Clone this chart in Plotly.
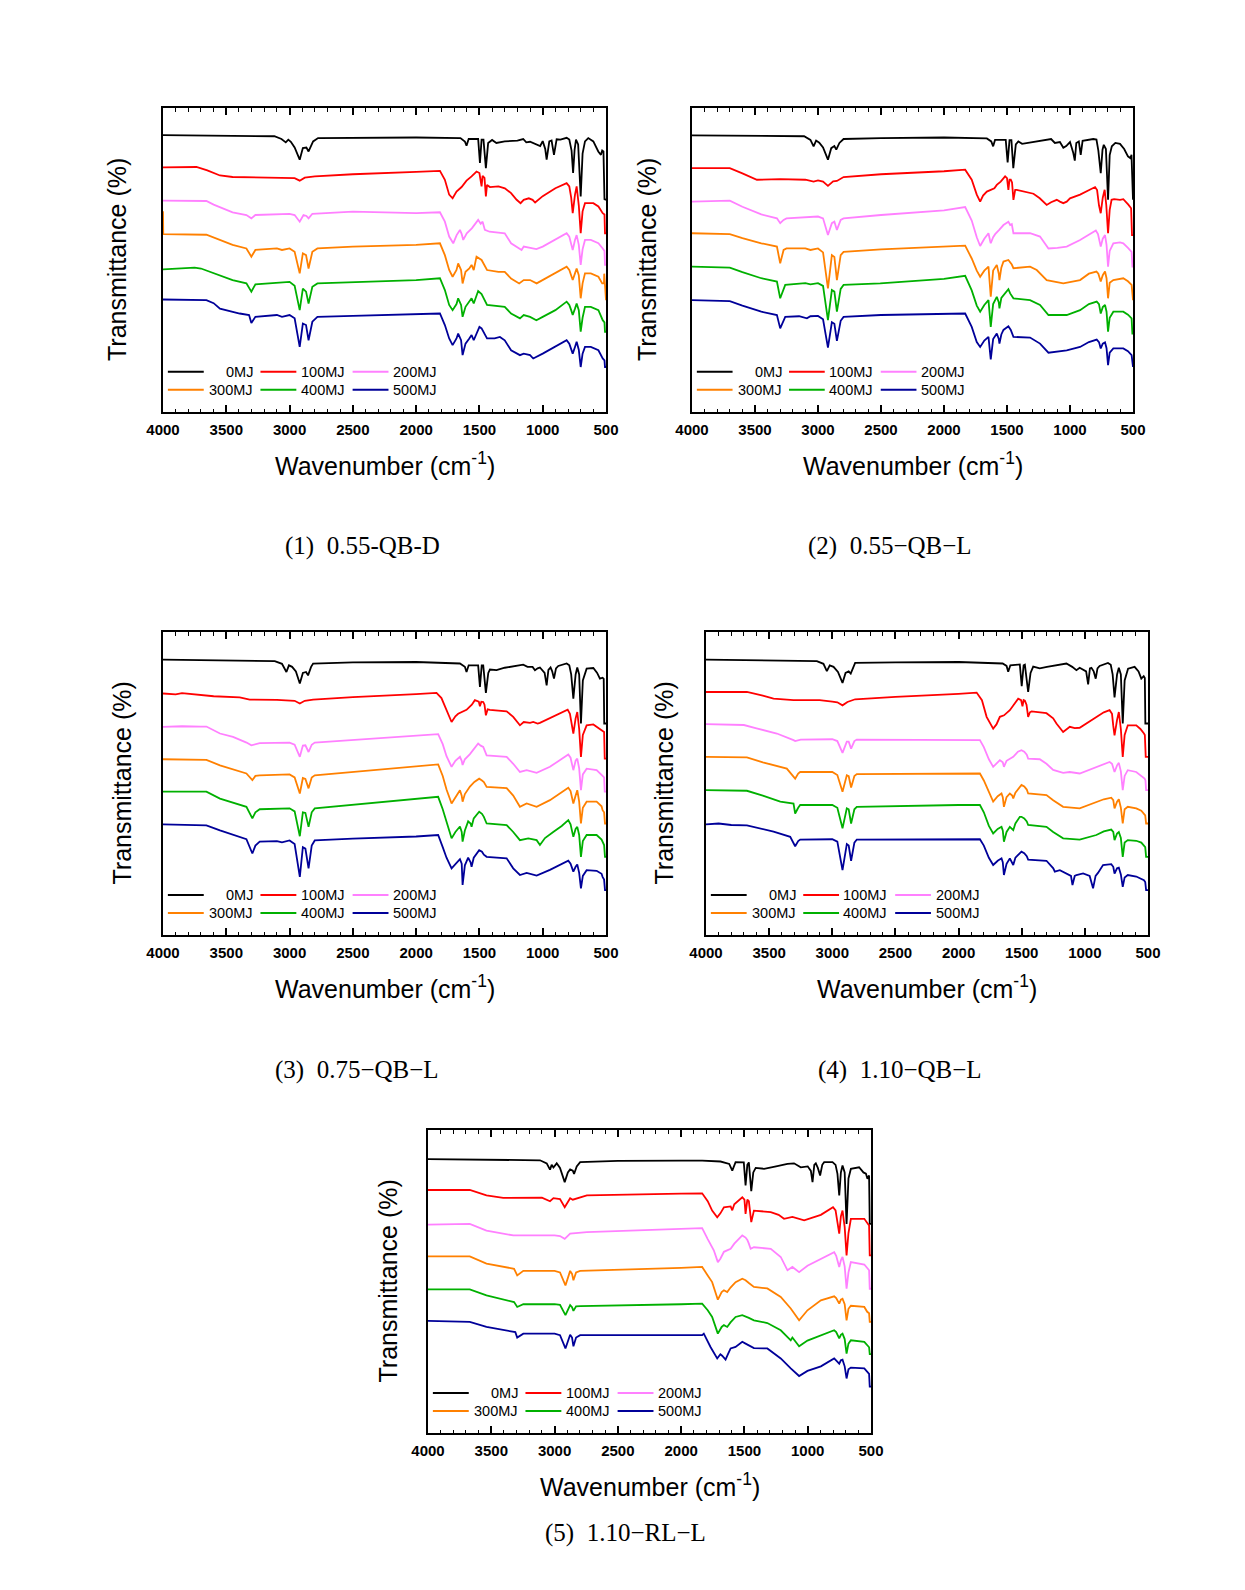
import plotly.graph_objects as go

W, H = 1245, 1590

SERIES_NAMES = ["0MJ", "100MJ", "200MJ", "300MJ", "400MJ", "500MJ"]
SERIES_COLORS = ["#000000", "#FF0000", "#FF80FF", "#FF8000", "#00B000", "#000099"]
X_TICKS = [4000, 3500, 3000, 2500, 2000, 1500, 1000, 500]
CAPTIONS = ["(1)  0.55-QB-D", "(2)  0.55\u2212QB\u2212L", "(3)  0.75\u2212QB\u2212L",
            "(4)  1.10\u2212QB\u2212L", "(5)  1.10\u2212RL\u2212L"]
X_TITLE = "Wavenumber (cm<sup>-1</sup>)"
Y_TITLE = "Transmittance (%)"

# ---------------- Panel 1 : (wavenumber cm-1, offset transmittance) ----------------
P1_0MJ = [(4000, 91.1), (3500, 90.9), (3120, 90.7), (3064, 89.8), (3030, 88.7), (3010, 89.6), (2990, 88.9), (2960, 87.0), (2920, 83.0), (2895, 86.8), (2867, 87.0), (2850, 85.7), (2814, 89.0), (2775, 90.1), (2000, 90.3), (1650, 90.1), (1615, 89.0), (1602, 87.6), (1585, 89.8), (1510, 89.8), (1496, 81.9), (1483, 89.6), (1468, 89.6), (1449, 80.2), (1431, 88.5), (1400, 89.5), (1366, 88.5), (1300, 89.0), (1200, 89.3), (1154, 89.8), (1130, 88.7), (1100, 88.9), (1048, 88.0), (1020, 87.5), (1000, 89.1), (980, 86.5), (969, 83.0), (948, 89.0), (930, 89.3), (911, 84.6), (890, 89.7), (860, 89.6), (811, 90.2), (790, 89.6), (772, 86.0), (760, 78.6), (748, 86.3), (737, 89.6), (720, 88.0), (700, 70.9), (685, 85.0), (666, 89.0), (640, 90.1), (600, 89.0), (561, 85.7), (540, 84.6), (530, 86.0), (520, 85.7), (512, 70.0), (500, 69.8)]
P1_100MJ = [(4000, 80.5), (3736, 80.6), (3650, 79.5), (3550, 77.8), (3450, 77.3), (3200, 77.1), (3000, 77.1), (2960, 76.9), (2920, 76.1), (2880, 77.1), (2800, 77.5), (2500, 78.2), (2000, 79.0), (1812, 79.3), (1773, 76.4), (1739, 71.5), (1712, 70.3), (1681, 72.5), (1641, 74.0), (1602, 76.1), (1562, 77.5), (1523, 79.1), (1500, 78.6), (1483, 74.2), (1475, 77.7), (1460, 77.0), (1449, 70.9), (1440, 74.7), (1417, 74.0), (1350, 74.2), (1299, 73.6), (1250, 72.0), (1206, 69.8), (1175, 68.7), (1150, 69.8), (1110, 70.3), (1080, 69.8), (1060, 68.9), (1000, 71.0), (900, 73.6), (811, 75.3), (790, 74.2), (775, 70.5), (763, 65.4), (745, 71.5), (732, 74.2), (715, 68.0), (700, 58.8), (685, 66.0), (666, 68.7), (600, 68.7), (560, 67.6), (526, 65.4), (512, 65.0), (508, 58.8), (500, 58.8)]
P1_200MJ = [(4000, 69.5), (3657, 69.4), (3600, 68.2), (3450, 65.7), (3341, 64.8), (3302, 63.7), (3270, 64.8), (3000, 65.2), (2960, 64.8), (2920, 62.6), (2890, 64.8), (2867, 64.5), (2850, 63.7), (2820, 65.2), (2500, 65.9), (2000, 65.4), (1812, 65.7), (1773, 62.6), (1739, 57.7), (1707, 55.5), (1680, 58.2), (1654, 59.9), (1640, 58.5), (1628, 56.6), (1600, 58.8), (1560, 60.4), (1510, 63.2), (1490, 61.9), (1475, 62.6), (1457, 59.9), (1420, 59.3), (1300, 58.8), (1250, 55.5), (1167, 53.3), (1150, 54.4), (1100, 54.0), (1050, 53.6), (1000, 54.4), (900, 56.6), (811, 58.8), (790, 57.7), (775, 55.5), (763, 53.3), (745, 56.6), (732, 58.2), (715, 55.0), (700, 48.4), (685, 53.5), (666, 56.6), (620, 56.6), (560, 55.5), (526, 53.8), (512, 53.0), (508, 48.4), (500, 48.4)]
P1_300MJ = [(4000, 66.0), (3998, 58.5), (3657, 58.3), (3600, 57.4), (3450, 55.0), (3341, 53.8), (3302, 51.1), (3270, 53.3), (3100, 53.8), (3060, 53.3), (3000, 53.8), (2960, 52.7), (2920, 45.6), (2895, 52.2), (2870, 51.6), (2850, 47.2), (2820, 52.7), (2780, 53.8), (2500, 54.4), (2000, 55.0), (1812, 55.5), (1773, 51.6), (1739, 46.7), (1712, 44.5), (1681, 46.7), (1668, 48.9), (1645, 46.7), (1633, 42.3), (1610, 46.1), (1580, 47.2), (1562, 48.4), (1545, 46.7), (1523, 51.1), (1483, 50.0), (1460, 48.4), (1440, 46.7), (1350, 46.1), (1300, 46.1), (1250, 43.9), (1186, 42.3), (1150, 43.4), (1100, 43.4), (1048, 42.3), (1000, 43.4), (900, 45.6), (811, 47.8), (790, 46.7), (775, 45.0), (763, 43.4), (745, 45.6), (732, 47.2), (715, 45.0), (700, 37.4), (685, 42.3), (666, 45.6), (620, 45.6), (560, 44.5), (530, 42.3), (516, 42.3), (514, 45.5), (510, 42.0), (505, 36.8), (500, 36.8)]
P1_400MJ = [(4000, 46.9), (3750, 47.5), (3700, 47.2), (3600, 45.6), (3450, 43.4), (3341, 42.3), (3302, 39.6), (3270, 42.0), (3000, 42.8), (2960, 41.5), (2920, 33.5), (2895, 40.6), (2870, 39.6), (2850, 35.7), (2820, 41.2), (2780, 42.3), (2000, 43.4), (1812, 44.0), (1773, 40.1), (1739, 35.2), (1712, 33.5), (1681, 35.5), (1668, 37.4), (1645, 35.2), (1633, 31.3), (1610, 34.6), (1580, 36.3), (1562, 37.4), (1545, 35.7), (1510, 39.8), (1483, 38.8), (1460, 37.0), (1440, 35.2), (1300, 34.6), (1250, 32.4), (1180, 30.8), (1150, 31.9), (1100, 31.3), (1050, 30.2), (1000, 31.3), (900, 33.5), (811, 36.3), (790, 35.2), (775, 33.5), (763, 31.9), (745, 34.0), (732, 35.7), (715, 33.5), (700, 26.4), (685, 31.0), (666, 34.6), (620, 34.6), (560, 33.5), (526, 30.2), (512, 29.5), (508, 26.4), (500, 26.4)]
P1_500MJ = [(4000, 37.0), (3657, 36.8), (3600, 35.8), (3550, 34.0), (3394, 32.4), (3320, 31.9), (3302, 29.3), (3270, 31.3), (3100, 31.9), (3060, 31.3), (3000, 31.9), (2960, 30.8), (2920, 21.4), (2895, 29.1), (2870, 28.6), (2850, 23.6), (2820, 29.7), (2780, 31.3), (2500, 31.6), (2000, 32.2), (1812, 32.4), (1773, 28.6), (1739, 24.2), (1712, 22.0), (1681, 24.2), (1668, 25.8), (1645, 23.6), (1633, 18.7), (1610, 22.5), (1580, 24.2), (1562, 25.3), (1545, 23.6), (1500, 28.0), (1483, 27.5), (1460, 25.8), (1440, 24.2), (1380, 24.2), (1338, 24.7), (1300, 23.6), (1250, 20.3), (1180, 18.7), (1150, 19.2), (1100, 18.7), (1075, 17.6), (1000, 19.2), (900, 21.4), (811, 23.6), (790, 22.5), (775, 21.0), (763, 19.2), (745, 21.4), (732, 23.1), (715, 20.5), (700, 14.8), (685, 19.2), (666, 21.4), (620, 21.4), (560, 20.3), (526, 17.6), (512, 17.0), (508, 14.8), (500, 14.8)]

# ---------------- Panel 2 ----------------
P2_0MJ = [(4000, 91.0), (3700, 90.9), (3110, 90.7), (3060, 89.5), (3035, 87.4), (3015, 89.3), (2990, 88.6), (2960, 87.0), (2921, 83.0), (2895, 86.8), (2870, 87.5), (2855, 86.3), (2830, 88.5), (2797, 89.8), (2500, 90.1), (2000, 90.3), (1660, 90.0), (1625, 89.0), (1610, 87.4), (1595, 89.5), (1510, 89.5), (1495, 82.1), (1480, 89.4), (1465, 89.4), (1450, 80.2), (1430, 88.0), (1410, 89.0), (1380, 88.2), (1300, 88.8), (1200, 89.3), (1150, 89.8), (1120, 88.5), (1080, 88.8), (1053, 86.9), (1030, 87.5), (1000, 88.8), (975, 85.4), (962, 82.7), (950, 88.5), (930, 89.0), (915, 84.6), (900, 89.2), (860, 89.6), (815, 89.8), (790, 89.6), (775, 86.0), (756, 78.6), (742, 86.3), (732, 87.9), (715, 86.5), (698, 69.8), (685, 84.5), (668, 87.4), (640, 88.5), (603, 88.2), (570, 86.5), (540, 84.1), (520, 83.5), (512, 84.6), (505, 69.8), (500, 69.8)]
P2_100MJ = [(4000, 80.2), (3700, 80.2), (3600, 78.5), (3485, 76.4), (3300, 76.6), (3100, 76.4), (3035, 75.8), (3000, 76.2), (2960, 75.8), (2921, 74.4), (2880, 75.9), (2850, 76.0), (2797, 77.3), (2500, 78.2), (2000, 79.2), (1832, 79.7), (1780, 76.4), (1740, 71.5), (1713, 69.2), (1690, 71.2), (1660, 72.5), (1634, 73.1), (1600, 73.6), (1581, 74.7), (1550, 75.8), (1515, 77.5), (1500, 76.9), (1489, 73.1), (1480, 76.4), (1470, 76.4), (1460, 75.5), (1449, 69.8), (1435, 73.1), (1423, 73.1), (1350, 72.5), (1290, 71.8), (1240, 70.3), (1185, 68.1), (1150, 69.0), (1105, 69.8), (1080, 69.2), (1053, 68.7), (1026, 69.2), (1000, 70.3), (920, 71.5), (850, 73.1), (801, 74.0), (785, 73.0), (770, 68.0), (756, 65.4), (740, 70.5), (725, 73.1), (712, 68.0), (698, 58.8), (685, 66.5), (670, 69.8), (650, 70.0), (603, 69.8), (577, 70.0), (537, 68.2), (515, 67.0), (508, 58.2), (500, 58.2)]
P2_200MJ = [(4000, 69.2), (3700, 69.5), (3600, 67.5), (3450, 65.0), (3326, 63.7), (3300, 62.1), (3273, 63.2), (3250, 63.7), (3000, 64.3), (2960, 63.7), (2921, 58.2), (2890, 62.1), (2870, 62.6), (2850, 59.9), (2820, 63.2), (2797, 63.7), (2500, 64.8), (2000, 66.3), (1832, 67.4), (1780, 63.0), (1740, 57.5), (1713, 54.6), (1680, 57.0), (1647, 58.8), (1635, 56.5), (1629, 55.5), (1610, 57.5), (1594, 58.5), (1560, 60.0), (1528, 61.5), (1489, 62.6), (1475, 61.5), (1462, 61.8), (1449, 58.8), (1400, 58.8), (1317, 58.8), (1238, 57.7), (1171, 53.8), (1100, 54.0), (1026, 54.4), (920, 56.6), (850, 58.5), (795, 59.7), (778, 58.5), (756, 54.4), (740, 57.0), (722, 58.2), (710, 55.0), (698, 47.8), (685, 53.0), (656, 55.5), (603, 55.8), (577, 55.5), (540, 54.0), (511, 52.7), (505, 47.8), (500, 47.8)]
P2_300MJ = [(4000, 58.8), (3700, 58.5), (3600, 57.2), (3450, 55.5), (3326, 54.4), (3300, 48.9), (3273, 53.3), (3250, 53.8), (3100, 53.8), (3060, 53.3), (3000, 53.8), (2960, 52.5), (2921, 40.7), (2890, 51.6), (2870, 51.0), (2850, 43.4), (2820, 51.6), (2797, 52.7), (2500, 53.5), (2000, 54.4), (1832, 54.7), (1780, 50.5), (1740, 46.5), (1713, 44.5), (1680, 46.5), (1647, 47.8), (1629, 37.9), (1610, 46.5), (1581, 48.4), (1565, 45.5), (1560, 43.4), (1545, 47.5), (1528, 49.5), (1489, 50.0), (1462, 48.5), (1449, 47.3), (1317, 47.8), (1264, 46.7), (1185, 43.4), (1053, 42.3), (920, 43.4), (850, 45.5), (790, 46.2), (775, 45.5), (756, 42.9), (740, 45.0), (722, 46.2), (710, 44.0), (698, 37.4), (685, 42.5), (656, 43.4), (577, 44.0), (540, 43.0), (511, 41.8), (505, 36.8), (500, 36.8)]
P2_400MJ = [(4000, 47.8), (3700, 47.5), (3600, 46.0), (3450, 44.0), (3326, 42.9), (3300, 37.4), (3260, 41.8), (3100, 42.4), (3060, 42.0), (3000, 42.4), (2960, 41.5), (2921, 30.2), (2890, 40.1), (2870, 39.6), (2850, 33.0), (2820, 40.5), (2797, 41.8), (2506, 42.3), (2000, 43.8), (1832, 44.8), (1780, 40.0), (1740, 35.0), (1713, 33.0), (1680, 35.2), (1647, 36.8), (1629, 28.0), (1610, 35.5), (1581, 37.9), (1565, 36.0), (1560, 34.1), (1545, 37.5), (1515, 39.0), (1489, 40.4), (1475, 39.0), (1449, 37.4), (1317, 36.8), (1238, 35.2), (1171, 31.9), (1026, 31.9), (920, 33.5), (850, 35.5), (788, 36.3), (770, 35.5), (756, 32.4), (740, 34.5), (722, 35.2), (710, 33.0), (698, 26.4), (685, 31.0), (656, 33.0), (577, 33.0), (540, 32.0), (511, 30.8), (505, 25.8), (500, 25.8)]
P2_500MJ = [(4000, 36.8), (3700, 36.5), (3600, 35.0), (3450, 33.0), (3326, 31.9), (3300, 27.5), (3260, 31.3), (3150, 31.5), (3088, 30.8), (3060, 31.5), (3000, 31.6), (2960, 30.5), (2921, 21.2), (2890, 29.5), (2870, 29.0), (2850, 23.4), (2820, 30.0), (2797, 31.3), (2500, 31.9), (2000, 32.2), (1832, 32.4), (1780, 28.0), (1740, 23.0), (1713, 21.4), (1680, 23.5), (1647, 24.7), (1629, 17.3), (1610, 24.0), (1581, 25.8), (1565, 24.0), (1560, 22.5), (1545, 25.5), (1528, 27.0), (1489, 28.2), (1470, 27.0), (1449, 24.7), (1317, 24.5), (1238, 22.5), (1171, 19.5), (1026, 20.3), (920, 21.4), (850, 23.0), (788, 23.8), (770, 23.0), (756, 20.9), (740, 22.5), (722, 22.9), (710, 21.0), (698, 15.4), (685, 19.5), (656, 20.9), (577, 20.9), (540, 20.0), (511, 18.7), (505, 14.8), (500, 14.8)]

# ---------------- Panel 3 ----------------
P3_0MJ = [(4000, 90.9), (3700, 90.8), (3117, 90.4), (3060, 89.5), (3025, 86.8), (3005, 89.0), (2980, 88.5), (2950, 87.0), (2919, 83.0), (2895, 86.5), (2870, 86.8), (2854, 85.7), (2830, 88.5), (2814, 89.6), (2500, 90.0), (2000, 90.1), (1654, 89.6), (1615, 88.5), (1602, 86.8), (1585, 89.0), (1510, 89.0), (1496, 81.9), (1482, 89.0), (1470, 89.0), (1449, 79.9), (1430, 86.5), (1417, 87.6), (1365, 87.4), (1300, 88.2), (1154, 89.2), (1120, 88.5), (1080, 88.5), (1061, 87.4), (1040, 88.0), (1022, 88.3), (985, 86.5), (969, 82.4), (955, 87.5), (938, 88.3), (925, 87.0), (911, 84.6), (895, 88.0), (877, 88.8), (811, 89.6), (790, 89.0), (775, 86.0), (758, 78.0), (740, 86.0), (727, 88.3), (712, 86.0), (698, 69.8), (683, 84.0), (653, 87.9), (600, 88.1), (570, 86.5), (548, 84.6), (527, 84.9), (518, 84.5), (514, 69.8), (500, 69.8)]
P3_100MJ = [(4000, 79.7), (3900, 79.4), (3850, 79.8), (3700, 79.2), (3600, 78.8), (3394, 78.4), (3315, 77.7), (3100, 77.6), (3000, 77.5), (2960, 77.3), (2919, 76.4), (2880, 77.3), (2814, 77.7), (2500, 78.5), (2000, 79.5), (1839, 79.9), (1800, 78.2), (1760, 74.2), (1720, 70.3), (1690, 72.2), (1668, 73.0), (1602, 74.3), (1560, 76.0), (1536, 77.5), (1505, 77.0), (1496, 75.5), (1485, 77.0), (1470, 76.9), (1460, 76.0), (1449, 72.5), (1435, 74.5), (1417, 74.3), (1285, 73.8), (1233, 72.0), (1180, 69.2), (1150, 70.3), (1100, 70.0), (1075, 70.3), (1040, 69.8), (1022, 70.0), (917, 72.0), (850, 73.5), (803, 74.4), (785, 73.0), (770, 69.0), (758, 66.5), (740, 71.5), (727, 73.6), (712, 68.0), (698, 58.8), (683, 66.0), (653, 69.2), (600, 69.5), (560, 68.5), (535, 67.6), (515, 67.0), (510, 58.2), (500, 58.2)]
P3_200MJ = [(4000, 68.7), (3850, 68.9), (3700, 68.8), (3657, 68.8), (3550, 66.5), (3447, 65.4), (3340, 63.5), (3302, 62.6), (3236, 63.3), (3000, 63.5), (2960, 62.8), (2919, 58.8), (2895, 62.5), (2875, 62.6), (2850, 60.4), (2825, 62.8), (2801, 63.5), (2500, 64.3), (2000, 65.7), (1826, 66.3), (1790, 63.0), (1760, 59.0), (1720, 55.5), (1690, 57.5), (1654, 58.8), (1640, 57.5), (1633, 56.1), (1615, 58.0), (1575, 59.7), (1540, 61.5), (1510, 63.2), (1490, 62.5), (1470, 62.1), (1443, 59.3), (1285, 58.8), (1233, 56.5), (1180, 53.8), (1127, 54.4), (1048, 53.5), (943, 55.5), (850, 58.2), (798, 59.6), (780, 58.5), (758, 54.4), (740, 57.5), (727, 58.2), (712, 55.0), (698, 47.8), (683, 53.0), (653, 54.9), (574, 54.4), (535, 52.7), (515, 52.0), (510, 47.3), (500, 47.3)]
P3_300MJ = [(4000, 58.0), (3700, 57.8), (3657, 57.8), (3550, 56.0), (3341, 53.3), (3294, 51.1), (3270, 52.5), (3236, 52.7), (3000, 53.0), (2960, 52.0), (2919, 46.7), (2895, 51.8), (2875, 51.5), (2850, 48.4), (2825, 52.0), (2801, 52.7), (2500, 53.8), (2000, 55.5), (1826, 56.3), (1790, 52.5), (1760, 48.0), (1720, 43.4), (1690, 45.5), (1654, 47.8), (1640, 46.0), (1633, 44.0), (1615, 46.5), (1575, 49.0), (1540, 50.5), (1502, 51.6), (1480, 51.0), (1465, 50.5), (1443, 48.9), (1285, 48.5), (1233, 46.0), (1180, 42.3), (1127, 43.4), (1048, 42.3), (943, 44.5), (850, 47.0), (798, 48.6), (780, 47.5), (758, 43.4), (740, 46.0), (727, 47.8), (712, 44.0), (698, 36.8), (683, 42.0), (653, 44.0), (574, 44.0), (535, 42.5), (527, 41.2), (515, 40.5), (508, 36.8), (500, 36.8)]
P3_400MJ = [(4000, 47.3), (3700, 47.5), (3657, 47.3), (3550, 45.0), (3341, 42.3), (3294, 38.5), (3270, 40.5), (3236, 41.5), (3000, 41.8), (2960, 40.8), (2919, 32.6), (2895, 40.5), (2875, 40.3), (2850, 35.7), (2825, 40.5), (2801, 41.8), (2500, 43.0), (2000, 44.8), (1826, 45.6), (1790, 41.5), (1760, 37.0), (1720, 31.9), (1690, 34.0), (1654, 35.8), (1640, 34.0), (1633, 30.8), (1615, 34.5), (1589, 37.5), (1570, 36.8), (1562, 35.7), (1545, 38.5), (1502, 40.7), (1480, 40.0), (1465, 39.0), (1443, 36.8), (1285, 36.3), (1233, 34.0), (1180, 31.3), (1114, 31.9), (1048, 31.3), (1022, 29.7), (982, 32.0), (917, 34.0), (850, 36.0), (798, 37.9), (780, 36.5), (758, 32.4), (740, 35.0), (727, 35.7), (712, 33.0), (698, 25.8), (683, 31.0), (653, 33.0), (574, 33.0), (535, 31.5), (527, 30.5), (515, 29.7), (508, 25.8), (500, 25.8)]
P3_500MJ = [(4000, 36.5), (3700, 36.4), (3657, 36.2), (3550, 34.5), (3447, 33.0), (3341, 31.6), (3294, 26.9), (3270, 29.5), (3236, 30.8), (3100, 31.0), (3060, 30.6), (3000, 31.2), (2960, 30.0), (2919, 19.2), (2895, 29.0), (2875, 28.5), (2850, 22.0), (2825, 29.5), (2801, 31.2), (2500, 31.8), (2000, 32.5), (1826, 33.0), (1790, 29.0), (1760, 25.5), (1720, 22.0), (1690, 23.5), (1654, 25.0), (1640, 23.5), (1633, 16.5), (1615, 23.0), (1589, 25.5), (1570, 24.0), (1562, 22.5), (1545, 25.5), (1502, 28.0), (1480, 27.5), (1465, 26.5), (1443, 25.8), (1285, 25.3), (1233, 22.0), (1180, 19.8), (1127, 20.5), (1048, 19.6), (943, 21.5), (850, 23.5), (798, 24.5), (780, 23.5), (758, 20.9), (740, 22.5), (727, 23.3), (712, 20.5), (698, 15.4), (683, 19.5), (653, 21.4), (574, 21.2), (535, 20.2), (527, 19.2), (515, 18.3), (508, 14.8), (500, 14.8)]

# ---------------- Panel 4 ----------------
P4_0MJ = [(4000, 90.9), (3700, 90.8), (3122, 90.4), (3070, 89.5), (3043, 87.1), (3020, 89.0), (2990, 88.5), (2955, 86.8), (2919, 83.2), (2895, 86.5), (2870, 87.0), (2854, 86.3), (2835, 88.5), (2819, 89.8), (2500, 90.0), (2000, 90.1), (1651, 89.6), (1620, 88.8), (1607, 86.9), (1590, 89.0), (1515, 89.3), (1500, 82.1), (1485, 89.0), (1475, 89.2), (1449, 80.2), (1430, 86.5), (1409, 88.6), (1357, 88.0), (1300, 88.5), (1146, 89.6), (1100, 88.5), (1067, 87.4), (1041, 88.2), (990, 87.0), (974, 82.7), (960, 88.0), (948, 88.2), (930, 87.0), (914, 84.6), (900, 88.0), (883, 88.8), (817, 89.8), (795, 89.2), (780, 86.0), (765, 78.4), (745, 86.0), (731, 88.2), (715, 86.0), (700, 69.8), (685, 84.0), (658, 87.9), (606, 88.5), (575, 87.0), (553, 84.6), (534, 85.4), (525, 84.8), (521, 69.8), (500, 69.8)]
P4_100MJ = [(4000, 80.2), (3676, 80.2), (3550, 79.0), (3465, 78.0), (3307, 77.5), (3100, 77.5), (3000, 77.0), (2960, 76.8), (2919, 75.8), (2880, 76.9), (2819, 77.8), (2500, 78.6), (2000, 79.6), (1857, 80.0), (1815, 77.5), (1778, 72.0), (1726, 68.1), (1700, 69.5), (1673, 72.0), (1640, 72.5), (1594, 74.2), (1560, 76.0), (1528, 78.0), (1505, 77.5), (1494, 75.5), (1485, 77.5), (1475, 77.3), (1462, 76.0), (1449, 72.0), (1435, 73.5), (1422, 73.8), (1304, 73.2), (1251, 71.5), (1225, 69.8), (1172, 67.0), (1119, 68.7), (1080, 68.3), (1041, 68.4), (960, 70.5), (909, 72.0), (850, 73.5), (804, 74.2), (785, 73.0), (775, 69.0), (765, 65.9), (745, 71.0), (731, 73.6), (715, 68.0), (700, 58.8), (685, 66.0), (660, 69.2), (593, 69.2), (560, 68.0), (532, 66.5), (525, 66.0), (518, 58.8), (500, 58.8)]
P4_200MJ = [(4000, 69.6), (3700, 69.3), (3600, 68.2), (3439, 66.5), (3307, 64.3), (3294, 64.0), (3250, 64.5), (3000, 64.6), (2960, 64.0), (2919, 60.1), (2885, 63.8), (2870, 63.8), (2851, 61.5), (2825, 64.0), (2806, 64.5), (2000, 64.4), (1831, 64.3), (1800, 62.0), (1760, 58.0), (1726, 55.5), (1690, 56.8), (1673, 57.7), (1650, 57.0), (1641, 55.5), (1620, 57.5), (1594, 58.2), (1567, 58.8), (1530, 60.5), (1502, 61.0), (1480, 60.5), (1460, 59.5), (1449, 58.2), (1357, 58.0), (1304, 56.5), (1251, 54.5), (1172, 53.5), (1120, 53.8), (1041, 53.3), (935, 55.0), (850, 56.5), (804, 57.1), (785, 56.5), (765, 53.8), (745, 56.0), (731, 56.8), (715, 54.0), (700, 47.8), (685, 52.5), (660, 54.4), (593, 53.8), (553, 52.5), (527, 51.6), (520, 51.0), (515, 47.8), (500, 47.8)]
P4_300MJ = [(4000, 58.8), (3676, 58.6), (3550, 57.0), (3360, 54.9), (3294, 51.6), (3270, 53.3), (3254, 53.8), (3000, 53.8), (2960, 52.8), (2919, 47.3), (2885, 52.7), (2870, 52.4), (2851, 48.7), (2825, 52.5), (2806, 53.1), (2000, 53.3), (1831, 53.3), (1800, 51.0), (1760, 47.0), (1726, 44.0), (1690, 45.8), (1660, 46.7), (1650, 45.5), (1641, 42.3), (1620, 45.5), (1594, 46.7), (1575, 46.0), (1567, 45.1), (1550, 47.0), (1502, 49.5), (1480, 49.0), (1460, 48.0), (1449, 46.7), (1304, 46.2), (1251, 44.5), (1172, 42.3), (1041, 41.8), (909, 44.0), (850, 44.8), (791, 45.3), (775, 44.5), (765, 41.8), (745, 44.0), (731, 44.8), (715, 42.0), (700, 36.8), (685, 41.5), (660, 42.3), (593, 41.8), (553, 41.0), (532, 40.1), (522, 39.5), (515, 36.8), (500, 36.8)]
P4_400MJ = [(4000, 47.8), (3676, 47.6), (3550, 46.0), (3412, 44.0), (3307, 43.4), (3294, 40.1), (3270, 42.0), (3254, 42.9), (3000, 42.9), (2960, 42.0), (2919, 35.2), (2885, 41.8), (2870, 41.5), (2851, 36.8), (2825, 41.5), (2806, 42.3), (2000, 42.9), (1831, 42.9), (1800, 40.5), (1760, 36.0), (1726, 33.5), (1690, 35.0), (1660, 35.7), (1650, 34.5), (1641, 30.8), (1620, 34.0), (1594, 35.7), (1575, 35.0), (1567, 34.6), (1550, 36.8), (1515, 39.0), (1502, 39.0), (1480, 38.5), (1460, 37.5), (1449, 36.3), (1304, 35.7), (1251, 34.0), (1172, 31.9), (1041, 31.5), (909, 33.0), (850, 34.2), (791, 34.8), (775, 34.0), (765, 31.3), (745, 33.5), (731, 34.0), (715, 32.0), (700, 25.8), (685, 30.5), (660, 31.3), (593, 31.1), (553, 30.5), (532, 29.7), (522, 29.0), (515, 25.8), (500, 25.8)]
P4_500MJ = [(4000, 36.5), (3900, 36.8), (3800, 36.3), (3676, 36.2), (3465, 34.1), (3333, 32.4), (3294, 29.3), (3270, 31.0), (3254, 31.5), (3000, 31.6), (2960, 30.8), (2919, 21.4), (2885, 30.0), (2870, 29.5), (2851, 24.5), (2825, 30.5), (2806, 31.5), (2000, 31.6), (1831, 31.6), (1800, 29.5), (1760, 25.5), (1726, 23.1), (1690, 24.5), (1660, 25.3), (1650, 24.0), (1641, 19.8), (1620, 23.5), (1594, 25.3), (1575, 24.0), (1567, 23.1), (1550, 25.5), (1528, 26.5), (1502, 27.5), (1480, 27.0), (1460, 26.0), (1449, 24.9), (1304, 24.5), (1250, 22.0), (1238, 20.9), (1198, 21.4), (1146, 20.3), (1110, 19.5), (1098, 16.5), (1080, 19.5), (1067, 19.8), (1014, 20.3), (962, 19.5), (950, 18.0), (935, 15.4), (915, 19.5), (896, 20.5), (856, 23.1), (791, 23.4), (775, 22.5), (765, 20.3), (745, 22.0), (731, 22.2), (715, 20.0), (700, 15.9), (685, 19.0), (660, 19.8), (593, 19.3), (553, 18.5), (532, 18.1), (522, 17.5), (515, 14.8), (500, 14.8)]

# ---------------- Panel 5 ----------------
P5_0MJ = [(4000, 90.4), (3700, 90.2), (3115, 90.0), (3062, 89.0), (3036, 86.9), (3023, 88.5), (3009, 87.6), (2983, 89.0), (2957, 87.5), (2920, 82.8), (2895, 86.0), (2877, 87.0), (2856, 86.6), (2846, 85.5), (2825, 88.0), (2798, 89.4), (2500, 89.8), (2000, 89.9), (1834, 89.9), (1689, 89.6), (1620, 88.8), (1596, 86.6), (1570, 89.4), (1505, 89.3), (1491, 81.7), (1477, 88.5), (1465, 89.3), (1446, 79.8), (1430, 86.0), (1411, 87.5), (1345, 87.2), (1250, 88.0), (1160, 88.8), (1108, 89.0), (1055, 87.7), (1000, 88.0), (975, 86.5), (962, 82.8), (948, 88.5), (936, 89.0), (920, 87.5), (902, 85.0), (885, 88.5), (870, 89.4), (804, 89.4), (780, 88.5), (765, 85.5), (751, 78.4), (738, 86.0), (725, 88.3), (708, 86.0), (693, 69.0), (678, 84.0), (659, 87.2), (594, 87.7), (560, 86.0), (540, 85.6), (528, 83.9), (515, 85.0), (510, 69.0), (500, 69.0)]
P5_100MJ = [(4000, 80.2), (3670, 80.2), (3538, 78.4), (3406, 77.6), (3100, 77.7), (3036, 76.5), (3009, 77.5), (2957, 77.2), (2920, 74.5), (2895, 76.5), (2877, 77.5), (2856, 77.0), (2745, 78.4), (2000, 79.0), (1834, 79.1), (1790, 76.5), (1755, 73.4), (1715, 71.2), (1690, 72.5), (1662, 74.5), (1609, 74.8), (1596, 73.5), (1580, 75.5), (1517, 77.8), (1500, 77.0), (1491, 72.3), (1477, 77.0), (1465, 76.5), (1446, 69.6), (1430, 72.5), (1425, 73.4), (1292, 72.9), (1230, 72.0), (1187, 70.7), (1121, 71.3), (1028, 70.2), (896, 72.0), (800, 74.5), (780, 73.5), (765, 69.5), (751, 65.8), (738, 71.5), (725, 73.4), (708, 68.0), (693, 58.6), (678, 66.0), (659, 70.7), (553, 70.7), (530, 69.5), (515, 68.5), (510, 58.6), (500, 58.6)]
P5_200MJ = [(4000, 68.8), (3670, 69.0), (3538, 66.8), (3326, 65.2), (3000, 65.2), (2957, 65.0), (2920, 64.1), (2877, 65.8), (2745, 66.3), (2000, 67.3), (1834, 67.6), (1790, 64.0), (1742, 60.3), (1710, 56.4), (1690, 57.5), (1662, 59.8), (1609, 60.8), (1580, 62.5), (1517, 65.2), (1491, 64.5), (1477, 63.7), (1465, 62.5), (1451, 60.8), (1425, 61.3), (1292, 60.8), (1213, 58.1), (1160, 53.7), (1121, 54.8), (1068, 53.1), (1002, 55.2), (896, 57.4), (791, 59.7), (775, 58.5), (751, 54.8), (738, 57.0), (725, 58.1), (708, 55.0), (693, 47.6), (678, 53.0), (659, 56.4), (553, 55.6), (530, 54.5), (515, 53.7), (510, 47.6), (500, 47.6)]
P5_300MJ = [(4000, 58.3), (3670, 58.3), (3538, 55.9), (3406, 54.8), (3320, 54.2), (3295, 52.0), (3247, 53.5), (3000, 53.5), (2957, 53.0), (2914, 48.7), (2877, 53.5), (2862, 52.5), (2851, 50.4), (2830, 53.0), (2798, 53.5), (2000, 54.5), (1834, 54.8), (1790, 52.0), (1755, 49.8), (1710, 44.0), (1680, 46.5), (1662, 47.1), (1636, 46.5), (1610, 48.0), (1570, 49.8), (1517, 50.9), (1491, 50.4), (1465, 49.5), (1425, 48.2), (1319, 47.7), (1213, 44.9), (1134, 41.1), (1068, 37.2), (1002, 40.5), (896, 43.8), (791, 45.1), (775, 44.5), (751, 42.7), (738, 44.0), (725, 44.3), (708, 42.5), (693, 37.2), (678, 41.0), (659, 42.0), (553, 41.6), (530, 40.0), (515, 39.5), (510, 36.7), (500, 36.7)]
P5_400MJ = [(4000, 47.4), (3670, 47.4), (3538, 45.4), (3320, 43.2), (3295, 41.6), (3247, 42.5), (3000, 42.5), (2957, 42.3), (2914, 38.9), (2877, 42.2), (2862, 41.5), (2851, 40.3), (2830, 41.8), (2798, 41.9), (2000, 42.5), (1834, 42.7), (1790, 40.5), (1755, 38.3), (1710, 32.8), (1680, 35.0), (1662, 35.6), (1636, 35.0), (1610, 36.5), (1570, 38.3), (1517, 38.9), (1491, 38.5), (1465, 38.0), (1425, 37.2), (1319, 36.3), (1213, 33.9), (1134, 30.6), (1121, 31.5), (1068, 28.6), (1002, 30.5), (896, 32.2), (791, 33.9), (775, 33.3), (751, 31.2), (738, 32.4), (725, 32.8), (708, 31.0), (693, 26.2), (678, 29.5), (659, 30.6), (553, 30.1), (530, 28.8), (515, 28.3), (510, 26.0), (500, 26.0)]
P5_500MJ = [(4000, 37.0), (3800, 36.8), (3670, 36.7), (3538, 35.0), (3379, 33.9), (3310, 33.3), (3295, 31.5), (3247, 32.8), (3000, 32.8), (2957, 32.3), (2914, 27.9), (2877, 32.4), (2862, 31.5), (2851, 28.6), (2830, 31.5), (2798, 32.3), (2000, 32.3), (1834, 32.3), (1821, 32.8), (1800, 31.0), (1768, 28.4), (1715, 24.6), (1690, 26.0), (1676, 25.5), (1649, 24.2), (1630, 26.0), (1609, 27.9), (1570, 28.4), (1517, 30.1), (1491, 29.5), (1465, 28.8), (1425, 28.0), (1319, 27.9), (1213, 24.6), (1134, 21.3), (1068, 18.8), (1002, 20.5), (896, 22.0), (791, 24.6), (775, 24.0), (751, 22.9), (738, 24.0), (725, 24.2), (708, 22.0), (693, 18.0), (678, 21.0), (659, 21.6), (553, 21.3), (530, 20.0), (515, 19.5), (510, 15.3), (500, 15.3)]

PANEL_SPECTRA = [
    [P1_0MJ, P1_100MJ, P1_200MJ, P1_300MJ, P1_400MJ, P1_500MJ],
    [P2_0MJ, P2_100MJ, P2_200MJ, P2_300MJ, P2_400MJ, P2_500MJ],
    [P3_0MJ, P3_100MJ, P3_200MJ, P3_300MJ, P3_400MJ, P3_500MJ],
    [P4_0MJ, P4_100MJ, P4_200MJ, P4_300MJ, P4_400MJ, P4_500MJ],
    [P5_0MJ, P5_100MJ, P5_200MJ, P5_300MJ, P5_400MJ, P5_500MJ],
]

# ---------------- layout (pixels) ----------------
PANEL_BOXES = [(163, 108, 606, 412), (692, 108, 1133, 412), (163, 632, 606, 935),
               (706, 632, 1148, 935), (428, 1130, 871, 1433)]
YTITLE_X = [117, 647, 122, 664, 387]
CAPTION_POS = [(362, 546), (890, 546), (357, 1070), (900, 1070), (625, 1533)]
LEG_LINE_X = [(0.011, 0.092), (0.220, 0.301), (0.428, 0.509)]
LEG_TEXT_RIGHT = [0.208, 0.415, 0.624]
LEG_ROW_Y = [0.132, 0.073]

SANS = "Liberation Sans, Arial, sans-serif"
SERIF = "Liberation Serif, Times New Roman, serif"

fig = go.Figure()
layout = dict(width=W, height=H, margin=dict(l=0, r=0, t=0, b=0, pad=0),
              paper_bgcolor="white", plot_bgcolor="white", showlegend=False)
annotations, shapes = [], []

for p, (spectra, box) in enumerate(zip(PANEL_SPECTRA, PANEL_BOXES)):
    n = p + 1
    sfx = "" if n == 1 else str(n)
    xa, ya = "x" + sfx, "y" + sfx
    l, t, r, b = box
    for s, pts in enumerate(spectra):
        fig.add_trace(go.Scatter(
            x=[w for w, _ in pts], y=[v for _, v in pts], mode="lines",
            line=dict(color=SERIES_COLORS[s], width=1.8),
            xaxis=xa, yaxis=ya, name=SERIES_NAMES[s], hoverinfo="skip"))
    layout["xaxis" + sfx] = dict(
        domain=[l / W, r / W], anchor=ya, range=[4000, 500], automargin=False,
        tickmode="array", tickvals=X_TICKS, ticks="inside", ticklen=7, tickwidth=1.5,
        tickcolor="black",
        minor=dict(dtick=100, tick0=0, ticks="inside", ticklen=3.5, tickwidth=1.2, tickcolor="black"),
        showline=True, linewidth=2, linecolor="black", mirror="ticks",
        showgrid=False, zeroline=False, ticklabelstandoff=3,
        tickfont=dict(family=SANS, size=15, color="black", weight="bold"))
    layout["yaxis" + sfx] = dict(
        domain=[1 - b / H, 1 - t / H], anchor=xa, range=[0, 100], automargin=False,
        showline=True, linewidth=2, linecolor="black", mirror=True,
        showticklabels=False, ticks="", showgrid=False, zeroline=False)

    # axis titles
    annotations.append(dict(text=X_TITLE, x=(l + r) / 2 / W, y=1 - (b + 52) / H,
                            xref="paper", yref="paper", showarrow=False,
                            xanchor="center", yanchor="middle",
                            font=dict(family=SANS, size=25, color="black")))
    annotations.append(dict(text=Y_TITLE, x=YTITLE_X[p] / W, y=1 - (t + b) / 2 / H,
                            xref="paper", yref="paper", showarrow=False, textangle=-90,
                            xanchor="center", yanchor="middle",
                            font=dict(family=SANS, size=25, color="black")))
    # caption
    cx, cy = CAPTION_POS[p]
    annotations.append(dict(text=CAPTIONS[p], x=cx / W, y=1 - cy / H,
                            xref="paper", yref="paper", showarrow=False,
                            xanchor="center", yanchor="middle",
                            font=dict(family=SERIF, size=25, color="black")))
    # in-plot legend
    for s, name in enumerate(SERIES_NAMES):
        row, col = divmod(s, 3)
        x0, x1 = LEG_LINE_X[col]
        yy = LEG_ROW_Y[row]
        shapes.append(dict(type="line", xref=xa + " domain", yref=ya + " domain",
                           x0=x0, x1=x1, y0=yy, y1=yy,
                           line=dict(color=SERIES_COLORS[s], width=2)))
        annotations.append(dict(text=name, x=LEG_TEXT_RIGHT[col], y=yy,
                                xref=xa + " domain", yref=ya + " domain", showarrow=False,
                                xanchor="right", yanchor="middle",
                                font=dict(family=SANS, size=14.5, color="black")))

layout["annotations"] = annotations
layout["shapes"] = shapes
fig.update_layout(**layout)
fig.write_html("out.html")
